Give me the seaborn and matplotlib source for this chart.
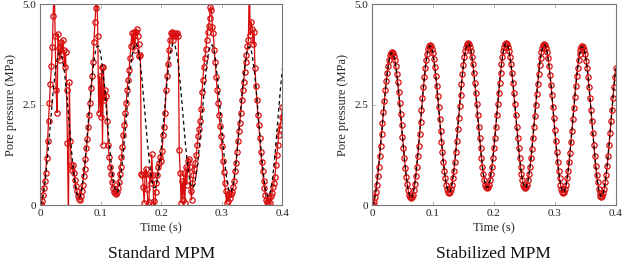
import numpy as np
import matplotlib
matplotlib.use("Agg")
import matplotlib.pyplot as plt
import seaborn as sns

# time grid of the MPM output (s)
time = np.linspace(0, 0.4, 257)
time_ref = np.linspace(0, 0.4, 129)

# analytical pore pressure (MPa), dashed black
p_analytical = [
    0, .08, .33, .72, 1.21, 1.76, 2.32, 2.85, 3.29, 3.61, 3.78,
    3.78, 3.60, 3.27, 2.81, 2.27, 1.70, 1.16, .70, .37, .19,
    .19, .38, .73, 1.21, 1.77, 2.37, 2.93, 3.41, 3.76, 3.95,
    3.95, 3.77, 3.43, 2.97, 2.43, 1.85, 1.31, .85, .51, .33,
    .33, .51, .85, 1.33, 1.88, 2.46, 3.01, 3.49, 3.83, 4.01,
    4.01, 3.83, 3.50, 3.04, 2.51, 1.94, 1.41, .95, .62, .44,
    .44, .62, .95, 1.41, 1.94, 2.51, 3.04, 3.50, 3.83, 4.01,
    4.01, 3.83, 3.50, 3.04, 2.51, 1.94, 1.41, .95, .62, .44,
    .44, .62, .94, 1.40, 1.93, 2.49, 3.02, 3.48, 3.80, 3.98,
    3.98, 3.80, 3.46, 2.99, 2.44, 1.87, 1.32, .85, .51, .33,
    .33, .51, .84, 1.30, 1.85, 2.41, 2.96, 3.42, 3.75, 3.93,
    3.93, 3.75, 3.40, 2.93, 2.37, 1.78, 1.22, .75, .40, .22,
    .22, .40, .75, 1.22, 1.78, 2.37, 2.93, 3.40,
]

# standard MPM (oscillating, spurious pressure spikes)
p_standard = [
    0, .03, .10, .25, .42, .60, .79, 1.18, 1.58, 2.10,
    2.55, 3.00, 3.45, 3.94, 4.70, 5.60, 4.20, 2.86, 2.30, 4.26,
    3.90, 3.60, 4.05, 3.75, 4.10, 3.85, 3.43, 3.80, 2.86, 1.55,
    -0.40, 3.05, 1.60, 1.00, .86, .99, .80, .62, .47, .35,
    .23, .15, .12, .22, .35, .50, .72, .90, 1.15, 1.42,
    1.65, 1.95, 2.25, 2.55, 2.90, 3.20, 3.55, 4.05, 4.55, 4.90,
    5.60, 4.20, 2.29, 3.20, 2.20, 3.43, 1.50, 3.43, 2.60, 2.86,
    2.70, 2.10, 1.50, 1.20, .95, .78, .58, .42, .33, .30,
    .27, .33, .42, .58, .78, .95, 1.20, 1.45, 1.75, 2.00,
    2.30, 2.55, 2.85, 3.10, 3.35, 3.65, 3.95, 4.27, 4.00, 4.30,
    3.85, 4.30, 4.38, 4.20, 4.00, 3.70, 3.74, .78, .74, .45,
    .05, .78, .90, .40, .02, .08, .75, .55, 1.26, .75,
    .10, -0.40, .33, .55, .75, .95, 1.05, 1.20, 1.10, 1.35,
    1.75, 1.95, 2.30, 2.85, 3.20, 3.50, 3.85, 4.10, 4.27, 4.31,
    4.10, 4.22, 4.27, 4.20, 4.25, 4.27, 4.20, 1.37, .80, .05,
    .60, .13, .80, .05, .95, .50, 1.10, 1.15, .95, .35,
    .13, .55, .75, .90, 1.05, 1.25, 1.50, 1.72, 1.90, 2.10,
    2.40, 2.80, 3.10, 3.43, 3.65, 3.88, 4.10, 4.30, 4.45, 4.65,
    4.93, 4.84, 4.43, 4.27, 3.85, 3.55, 3.19, 2.86, 2.53, 2.25,
    1.96, 1.72, 1.47, 1.10, .82, .55, .35, .05, .25, .10,
    .30, .18, .28, .33, .44, .60, .85, 1.05, 1.33, 1.60,
    1.85, 2.05, 2.30, 2.60, 2.85, 3.07, 3.32, 3.55, 3.74, 3.95,
    4.10, 5.60, 4.23, 4.56, 4.39, 4.00, 4.31, 3.40, 2.95, 2.60,
    2.25, 1.99, 1.66, 1.33, 1.08, .85, .60, .42, .25, .13,
    .08, .04, .17, .05, .22, .30, .46, .55, .70, .99,
    1.24, 1.49, 1.74, 1.90, 2.00, 2.20, 2.45,
]

# stabilized MPM (smooth)
p_stabilized = [
    0, .02, .08, .19, .33, .51, .72, .95, 1.21, 1.48,
    1.76, 2.04, 2.32, 2.59, 2.85, 3.08, 3.29, 3.47, 3.61, 3.72,
    3.78, 3.80,
    3.78, 3.71, 3.60, 3.45, 3.27, 3.05, 2.81, 2.55, 2.27, 1.99,
    1.70, 1.42, 1.16, .92, .70, .52, .37, .26, .19, .17,
    .19, .26, .38, .53, .73, .95, 1.21, 1.48, 1.77, 2.07,
    2.37, 2.66, 2.93, 3.19, 3.41, 3.61, 3.76, 3.88, 3.95, 3.97,
    3.95, 3.88, 3.77, 3.62, 3.43, 3.22, 2.97, 2.71, 2.43, 2.14,
    1.85, 1.57, 1.31, 1.06, .85, .66, .51, .40, .33, .31,
    .33, .40, .51, .67, .85, 1.08, 1.33, 1.60, 1.88, 2.17,
    2.46, 2.74, 3.01, 3.26, 3.49, 3.67, 3.83, 3.94, 4.01, 4.03,
    4.01, 3.94, 3.83, 3.69, 3.50, 3.29, 3.04, 2.78, 2.51, 2.23,
    1.94, 1.67, 1.41, 1.16, .95, .76, .62, .51, .44, .42,
    .44, .51, .62, .76, .95, 1.16, 1.41, 1.67, 1.94, 2.23,
    2.51, 2.78, 3.04, 3.29, 3.50, 3.69, 3.83, 3.94, 4.01, 4.03,
    4.01, 3.94, 3.83, 3.69, 3.50, 3.29, 3.04, 2.78, 2.51, 2.23,
    1.94, 1.67, 1.41, 1.16, .95, .76, .62, .51, .44, .42,
    .44, .51, .62, .76, .94, 1.16, 1.40, 1.66, 1.93, 2.21,
    2.49, 2.76, 3.02, 3.26, 3.48, 3.66, 3.80, 3.91, 3.98, 4.00,
    3.98, 3.91, 3.80, 3.65, 3.46, 3.24, 2.99, 2.73, 2.44, 2.16,
    1.87, 1.58, 1.32, 1.07, .85, .66, .51, .40, .33, .31,
    .33, .40, .51, .66, .84, 1.06, 1.30, 1.57, 1.85, 2.13,
    2.41, 2.69, 2.96, 3.20, 3.42, 3.60, 3.75, 3.86, 3.93, 3.95,
    3.93, 3.86, 3.75, 3.59, 3.40, 3.18, 2.93, 2.65, 2.37, 2.08,
    1.78, 1.50, 1.22, .97, .75, .56, .40, .29, .22, .20,
    .22, .29, .40, .56, .75, .97, 1.22, 1.50, 1.78, 2.08,
    2.37, 2.65, 2.93, 3.18, 3.40,
]

panels = ["Standard MPM", "Stabilized MPM"]
xticks = [0, 0.1, 0.2, 0.3, 0.4]
xticklabels = ["0", "0.1", "0.2", "0.3", "0.4"]
yticks = [0, 2.5, 5.0]
yticklabels = ["0", "2.5", "5.0"]

sns.set_theme(style="ticks")
plt.rcParams["font.family"] = ["Liberation Serif", "DejaVu Serif"]

red = "#d80c0c"
fig = plt.figure(figsize=(6.23, 2.71), dpi=100)
ax1 = fig.add_axes([0.0642, 0.2435, 0.3892, 0.7417])
ax2 = fig.add_axes([0.5971, 0.2435, 0.3912, 0.7417])

for ax, series, title in zip([ax1, ax2], [p_standard, p_stabilized], panels):
    sns.lineplot(x=time, y=series, ax=ax, color=red, lw=0.9, marker="o",
                 markersize=3.8, markerfacecolor="none", markeredgecolor=red,
                 markeredgewidth=0.9, estimator=None, sort=False)
    sns.lineplot(x=time_ref, y=p_analytical, ax=ax, color="black", lw=0.9,
                 linestyle=(0, (3, 2.5)), estimator=None, sort=False)
    ax.set_xlim(0, 0.4)
    ax.set_ylim(0, 5.0)
    ax.set_xticks(xticks)
    ax.set_xticklabels(xticklabels)
    ax.set_yticks(yticks)
    ax.set_yticklabels(yticklabels)
    ax.tick_params(direction="in", length=3, width=0.6, color="#aaaaaa",
                   labelsize=8, top=True, right=True, pad=3, labelcolor="#222222")
    for s in ax.spines.values():
        s.set_color("#777777")
        s.set_linewidth(0.8)
    ax.set_xlabel("Time (s)", fontsize=9, labelpad=3)
    ax.set_ylabel("Pore pressure (MPa)", fontsize=9, labelpad=4)
    pos = ax.get_position()
    fig.text((pos.x0 + pos.x1) / 2, 0.035, title, ha="center", va="bottom",
             fontsize=12.5, color="#111111")

fig.savefig("out.png", dpi=100)
